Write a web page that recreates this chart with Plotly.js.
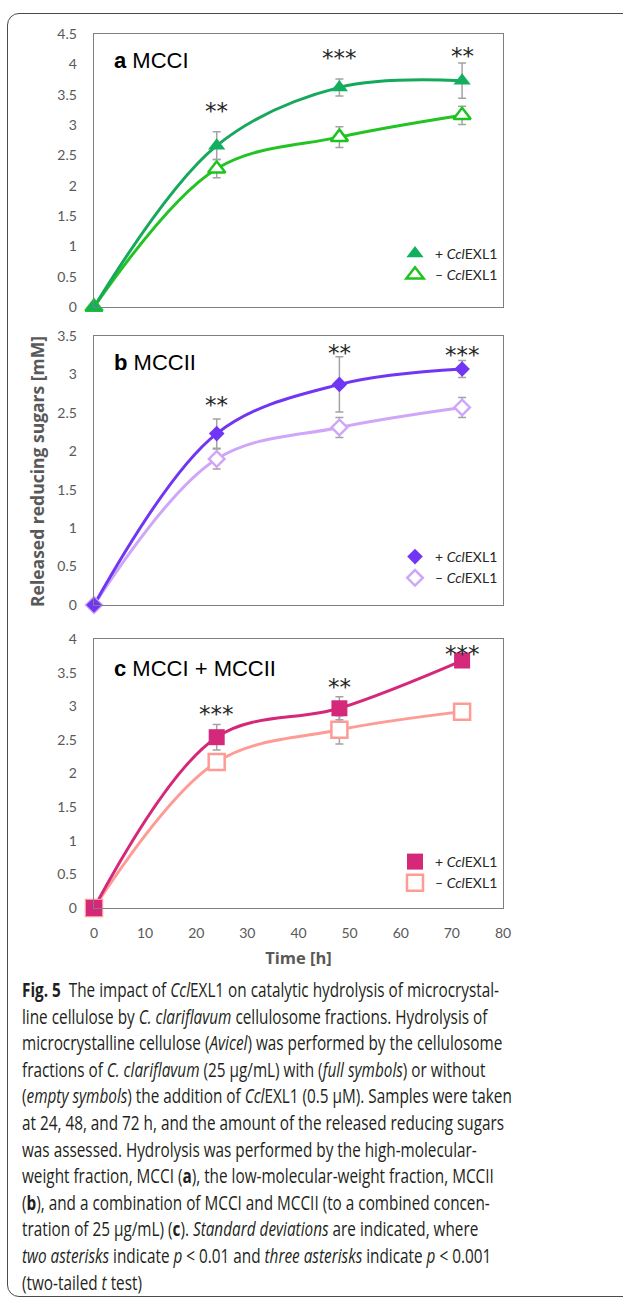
<!DOCTYPE html>
<html>
<head>
<meta charset="utf-8">
<script src="https://cdn.plot.ly/plotly-3.0.1.min.js"></script>
<style>
  html, body { margin:0; padding:0; background:#fff; overflow:hidden; width:623px; height:1300px; }
  #frame { position:absolute; left:7px; top:13px; width:720px; height:1284px; border:1px solid #4a4a4a; border-radius:12px; box-sizing:border-box; }
  #plot { position:absolute; left:0; top:0; width:623px; height:975px; }
  #caption { position:absolute; left:22px; top:977px; font-family:"Open Sans", "Noto Sans", sans-serif; font-size:20px; line-height:26.6px; color:#231f20; white-space:nowrap; transform-origin:0 0; }
  #caption .ln { display:block; white-space:nowrap; }
  #caption .ln span { display:inline-block; }
</style>
</head>
<body>
<div id="frame"></div>
<div id="plot"></div>
<div id="caption">
<div class="ln"><span><b>Fig. 5</b>&nbsp; The impact of <i>Ccl</i>EXL1 on catalytic hydrolysis of microcrystal-</span></div>
<div class="ln"><span>line cellulose by <i>C. clariflavum</i> cellulosome fractions. Hydrolysis of</span></div>
<div class="ln"><span>microcrystalline cellulose (<i>Avicel</i>) was performed by the cellulosome</span></div>
<div class="ln"><span>fractions of <i>C. clariflavum</i> (25 µg/mL) with (<i>full symbols</i>) or without</span></div>
<div class="ln"><span id="cl5">(<i>empty symbols</i>) the addition of <i>Ccl</i>EXL1 (0.5 µM). Samples were taken</span></div>
<div class="ln"><span>at 24, 48, and 72 h, and the amount of the released reducing sugars</span></div>
<div class="ln"><span>was assessed. Hydrolysis was performed by the high-molecular-</span></div>
<div class="ln"><span>weight fraction, MCCI (<b>a</b>), the low-molecular-weight fraction, MCCII</span></div>
<div class="ln"><span>(<b>b</b>), and a combination of MCCI and MCCII (to a combined concen-</span></div>
<div class="ln"><span>tration of 25 µg/mL) (<b>c</b>). <i>Standard deviations</i> are indicated, where</span></div>
<div class="ln"><span><i>two asterisks</i> indicate <i>p</i> &lt; 0.01 and <i>three asterisks</i> indicate <i>p</i> &lt; 0.001</span></div>
<div class="ln"><span>(two-tailed <i>t</i> test)</span></div>
</div>
<script>
// ---------------- data ----------------
const timeH = [0, 24, 48, 72];

const mcciPlus      = [0, 2.66, 3.62, 3.73];
const mcciPlusSD    = [0, 0.23, 0.14, 0.29];
const mcciMinus     = [0, 2.28, 2.80, 3.16];
const mcciMinusSD   = [0, 0.15, 0.17, 0.15];

const mcciiPlus     = [0, 2.23, 2.87, 3.07];
const mcciiPlusSD   = [0, 0.19, 0.36, 0.11];
const mcciiMinus    = [0, 1.90, 2.31, 2.57];
const mcciiMinusSD  = [0, 0.13, 0.13, 0.13];

const mixPlus       = [0, 2.54, 2.97, 3.68];
const mixPlusSD     = [0, 0.19, 0.17, 0.05];
const mixMinus      = [0, 2.17, 2.65, 2.92];
const mixMinusSD    = [0, 0.05, 0.21, 0.05];

const starTimes = [24, 48, 72];
const starsA = ["**", "***", "**"];
const starsAy = [3.33, 4.20, 4.24];
const starsB = ["**", "**", "***"];
const starsBy = [2.68, 3.36, 3.33];
const starsC = ["***", "**", "***"];
const starsCy = [2.98, 3.38, 3.86];

const panelLabels = ["<b>a</b> MCCI", "<b>b</b> MCCII", "<b>c</b> MCCI + MCCII"];
const legendPlus = "+ <i>Ccl</i>EXL1";
const legendMinus = "– <i>Ccl</i>EXL1";
const yTitle = "Released reducing sugars [mM]";
const xTitle = "Time [h]";

// ---------------- layout helpers ----------------
const W = 623, H = 975;
const X = px => px / W;
const Y = py => 1 - py / H;

const panels = [
  {plus: mcciPlus, plusSD: mcciPlusSD, minus: mcciMinus, minusSD: mcciMinusSD,
   sym: "triangle-up", size: 15, cPlus: "#12b05e", cPlusLine: "#16a85b", cMinus: "#1ec41e", cMinusLine: "#22c322",
   top: 34, bottom: 307, yr: [0, 4.5], stars: starsA, starsY: starsAy, legTop: 238, labelY: 60},
  {plus: mcciiPlus, plusSD: mcciiPlusSD, minus: mcciiMinus, minusSD: mcciiMinusSD,
   sym: "diamond", size: 12, cPlus: "#7136f4", cPlusLine: "#7136f4", cMinus: "#cfa6f8", cMinusLine: "#cfa6f8",
   top: 336, bottom: 605, yr: [0, 3.5], stars: starsB, starsY: starsBy, legTop: 541, labelY: 363},
  {plus: mixPlus, plusSD: mixPlusSD, minus: mixMinus, minusSD: mixMinusSD,
   sym: "square", size: 16, cPlus: "#d5287a", cPlusLine: "#d5287a", cMinus: "#ff9b95", cMinusLine: "#ff9b95",
   top: 639, bottom: 908, yr: [0, 4], stars: starsC, starsY: starsCy, legTop: 846, labelY: 668}
];

const traces = [];
const annotations = [];
const layout = {
  width: W, height: H,
  margin: {l: 0, r: 0, t: 0, b: 0},
  paper_bgcolor: "rgba(0,0,0,0)",
  plot_bgcolor: "rgba(0,0,0,0)",
  showlegend: true,
  font: {family: "Lato, 'Open Sans', sans-serif", color: "#595959"}
};

panels.forEach((p, i) => {
  const k = i === 0 ? "" : String(i + 1);
  const xa = "x" + k, ya = "y" + k;
  const leg = "legend" + k;

  traces.push({x: timeH, y: p.minus, xaxis: xa, yaxis: ya, mode: "lines", showlegend: false, hoverinfo: "skip",
    line: {color: p.cMinusLine, width: 3, shape: "spline", smoothing: 1}, cliponaxis: false});
  traces.push({x: timeH, y: p.plus, xaxis: xa, yaxis: ya, mode: "lines", showlegend: false, hoverinfo: "skip",
    line: {color: p.cPlusLine, width: 3, shape: "spline", smoothing: 1}, cliponaxis: false});
  traces.push({x: timeH, y: p.minus, xaxis: xa, yaxis: ya, mode: "markers", name: legendMinus, legend: leg, legendrank: 2,
    marker: {symbol: p.sym, size: p.size, color: "#ffffff", line: {color: p.cMinus, width: 2.5}},
    error_y: {type: "data", array: p.minusSD, visible: true, color: "#a3a3a3", thickness: 1.5, width: 4},
    cliponaxis: false});
  traces.push({x: timeH, y: p.plus, xaxis: xa, yaxis: ya, mode: "markers", name: legendPlus, legend: leg, legendrank: 1,
    marker: {symbol: p.sym, size: p.size, color: p.cPlus, line: {color: p.cPlus, width: 0}},
    error_y: {type: "data", array: p.plusSD, visible: true, color: "#a3a3a3", thickness: 1.5, width: 4},
    cliponaxis: false});

  layout["xaxis" + k] = {
    domain: [X(94), X(503)], anchor: ya, range: [0, 80], dtick: 10,
    showline: true, mirror: true, linecolor: "#7f7f7f", linewidth: 1.3,
    showgrid: false, zeroline: false, ticks: "",
    showticklabels: i === 2, ticklabelstandoff: 12,
    tickfont: {family: "Lato, sans-serif", size: 14, color: "#595959"}
  };
  layout["yaxis" + k] = {
    domain: [Y(p.bottom), Y(p.top)], anchor: xa, range: p.yr, dtick: 0.5, tick0: 0,
    showline: true, mirror: true, linecolor: "#7f7f7f", linewidth: 1.3,
    showgrid: false, zeroline: false, ticks: "", ticklabelstandoff: 13,
    tickfont: {family: "Lato, sans-serif", size: 14, color: "#595959"}
  };
  layout[leg] = {
    x: X(395), xanchor: "left", y: Y(p.legTop), yanchor: "top",
    bgcolor: "rgba(0,0,0,0)", borderwidth: 0, traceorder: "normal",
    font: {family: "Lato, sans-serif", size: 14, color: "#262626"},
    itemclick: false, itemdoubleclick: false
  };

  annotations.push({xref: "paper", yref: "paper", x: X(112), y: Y(p.labelY), xanchor: "left", yanchor: "middle",
    text: panelLabels[i], showarrow: false,
    font: {family: "'Liberation Sans', Arial, sans-serif", size: 22, color: "#000000"}});

  p.stars.forEach((s, j) => {
    annotations.push({xref: xa, yref: ya, x: starTimes[j], y: p.starsY[j], text: s, showarrow: false,
      xanchor: "center", yanchor: "middle", yshift: -6,
      font: {family: "'DejaVu Sans', sans-serif", size: 23, color: "#262626"}});
  });
});

layout.xaxis3.title = {text: "<b>" + xTitle + "</b>", standoff: 12,
  font: {family: "'Open Sans', sans-serif", size: 16.5, color: "#595959"}};

annotations.push({xref: "paper", yref: "paper", x: X(37), y: Y(472), xanchor: "center", yanchor: "middle",
  text: "<b>" + yTitle + "</b>", textangle: -90, showarrow: false,
  font: {family: "'Open Sans', sans-serif", size: 17.5, color: "#595959"}});

layout.annotations = annotations;

Plotly.newPlot("plot", traces, layout, {staticPlot: true, displayModeBar: false});

// fit caption width (ragged-right text, uniform horizontal scale)
function fitCaption() {
  const cap = document.getElementById("caption");
  const l5 = document.getElementById("cl5");
  const w = l5.offsetWidth;
  if (w > 0) {
    const s = 490 / w;
    cap.style.transform = "scaleX(" + s.toFixed(4) + ")";
  }
}
fitCaption();
if (document.fonts && document.fonts.ready) { document.fonts.ready.then(fitCaption); }
</script>
</body>
</html>
